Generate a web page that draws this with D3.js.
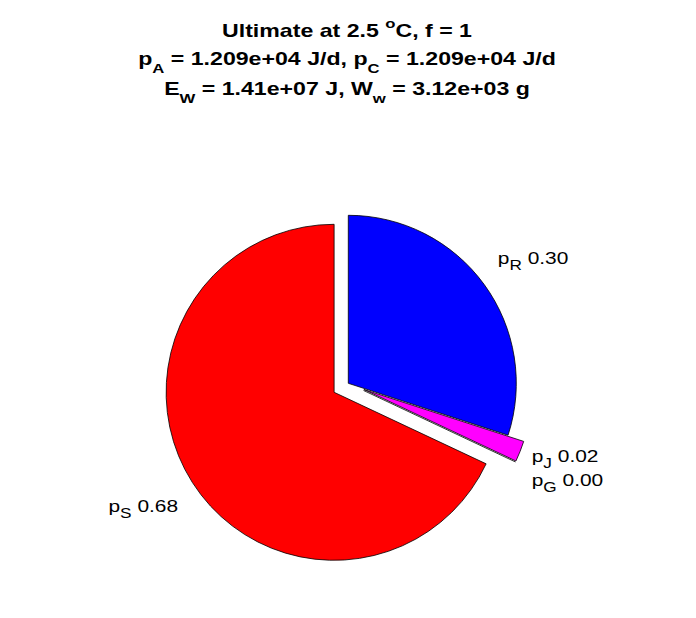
<!DOCTYPE html>
<html>
<head>
<meta charset="utf-8">
<script src="https://cdn.jsdelivr.net/npm/d3@7"></script>
<style>
  html, body { margin: 0; padding: 0; background: #fff; }
  svg { display: block; }
  text { font-family: "Liberation Sans", Arial, Helvetica, sans-serif; }
</style>
</head>
<body>
<svg id="chart" width="696" height="618"></svg>
<script>
// ---- data ----
const sliceNames  = ["R", "J", "G", "S"];
const sliceValues = [0.30, 0.02, 0.00, 0.68];
const sliceLabels = ["0.30", "0.02", "0.00", "0.68"];
const sliceColors = ["#0000ff", "#ff00ff", "#ffff00", "#ff0000"];
const exploded    = [0, 1, 1, 1];

// title pieces: [text, kind] kind: n normal, sub, sup
const titleLine1 = [["Ultimate at 2.5 ", "n"], ["o", "sup"], ["C, f = 1", "n"]];
const titleLine2 = [["p", "n"], ["A", "sub"], [" = 1.209e+04 J/d, p", "n"], ["C", "sub"], [" = 1.209e+04 J/d", "n"]];
const titleLine3 = [["E", "n"], ["W", "sub"], [" = 1.41e+07 J, W", "n"], ["w", "sub"], [" = 3.12e+03 g", "n"]];

// ---- layout ----
const W = 696, H = 618;
const cx = 348.3, cy = 383.3, R = 168;
const explodeFrac = 0.1, labelFrac = 1.1;
const labelNudge = { J: [-4, -16.5], G: [1, -4] };
const textStretch = 1.23;

const svg = d3.select("#chart");
svg.append("rect").attr("width", W).attr("height", H).attr("fill", "#fff");

// title
function titleLine(parts, y) {
  const g = svg.append("g");
  const t = g.append("text")
    .attr("x", 0).attr("y", 0)
    .attr("text-anchor", "middle")
    .attr("font-weight", "bold")
    .attr("font-size", 18)
    .style("white-space", "pre");
  let shift = 0;
  parts.forEach(([s, k]) => {
    const sp = t.append("tspan").text(s);
    const want = k === "sub" ? 8 : k === "sup" ? -9 : 0;
    sp.attr("dy", want - shift);
    shift = want;
    if (k !== "n") sp.attr("font-size", 13);
  });
  return { g, w: t.node().getComputedTextLength(), y };
}
const lines = [titleLine(titleLine1, 37), titleLine(titleLine2, 65), titleLine(titleLine3, 95)];
const titleScale = 418 / lines[1].w;
lines.forEach(l => l.g.attr("transform", `translate(347,${l.y}) scale(${titleScale},1)`));

// pie
const pie = d3.pie().sort(null).value(d => d).startAngle(0).endAngle(2 * Math.PI);
const arcs = pie(sliceValues);
const arcGen = d3.arc().innerRadius(0).outerRadius(R);

const g = svg.append("g").attr("transform", `translate(${cx},${cy})`);

arcs.forEach((a, i) => {
  const mid = (a.startAngle + a.endAngle) / 2;
  const off = exploded[i] ? explodeFrac * R : 0;
  const ox = off * Math.sin(mid), oy = -off * Math.cos(mid);
  const path = g.append("path")
    .attr("transform", `translate(${ox},${oy})`)
    .attr("fill", sliceColors[i])
    .attr("stroke", "#000")
    .attr("stroke-width", 0.8)
    .attr("stroke-linejoin", "miter");
  if (a.endAngle - a.startAngle > 0) path.attr("d", arcGen(a));
  else {
    path.attr("d", `M0,0L${R * Math.sin(mid)},${-R * Math.cos(mid)}`).attr("fill", "none");
  }

  // label
  const lx = ox + labelFrac * R * Math.sin(mid);
  const ly = oy - labelFrac * R * Math.cos(mid);
  const right = Math.sin(mid) >= 0;
  const upper = Math.cos(mid) > 0;
  const nudge = labelNudge[sliceNames[i]] || [0, 0];
  const baseY = ly + (upper ? -11 : 21) + nudge[1];
  const lg = g.append("g")
    .attr("transform", `translate(${lx + nudge[0]},${baseY}) scale(${textStretch},1)`);
  const t = lg.append("text")
    .attr("x", 0)
    .attr("y", 0)
    .attr("font-size", 17)
    .attr("text-anchor", right ? "start" : "end")
    .style("white-space", "pre");
  t.append("tspan").text("p");
  t.append("tspan").text(sliceNames[i]).attr("font-size", 14).attr("dy", 6);
  t.append("tspan").text(" " + sliceLabels[i]).attr("dy", -6);
});
</script>
</body>
</html>
